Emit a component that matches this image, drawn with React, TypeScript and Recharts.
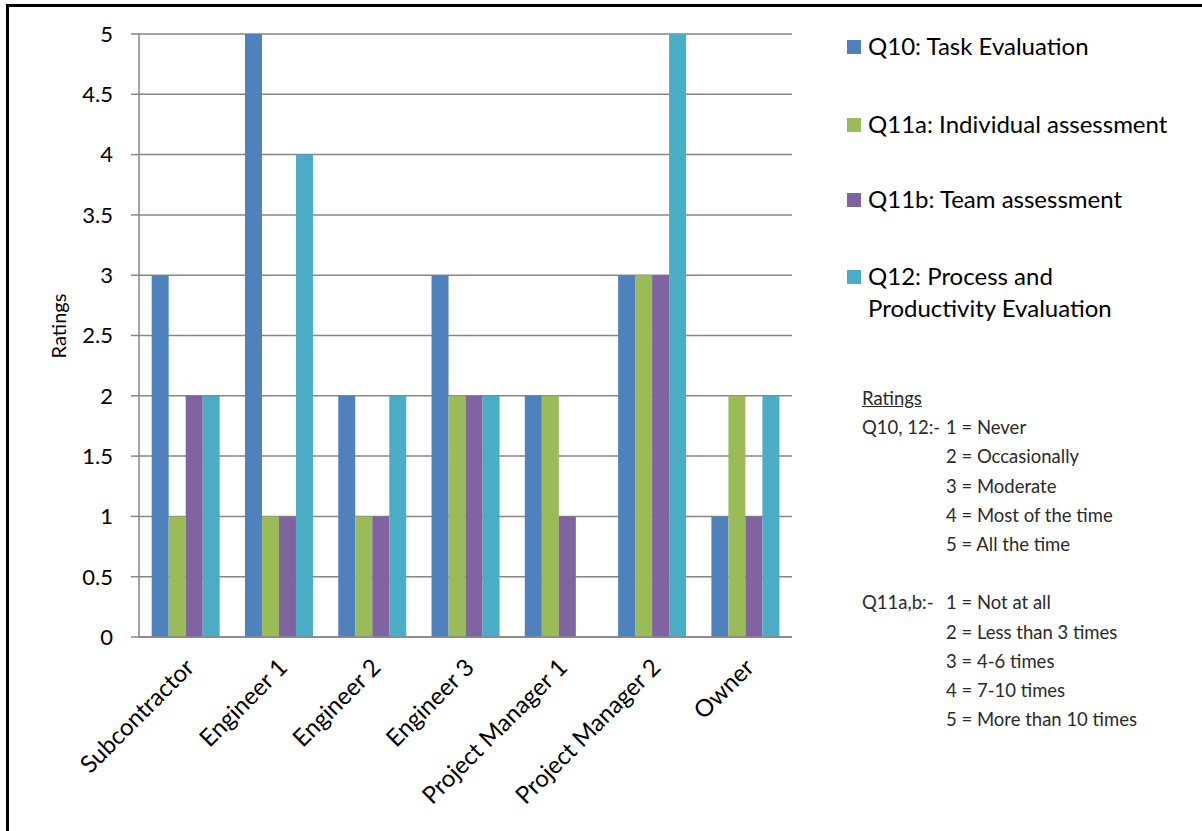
import React from 'react';
import { BarChart, Bar, XAxis, YAxis, CartesianGrid } from 'recharts';

const categories = ['Subcontractor', 'Engineer 1', 'Engineer 2', 'Engineer 3', 'Project Manager 1', 'Project Manager 2', 'Owner'];
const q10 = [3, 5, 2, 3, 2, 3, 1];
const q11a = [1, 1, 1, 2, 2, 3, 2];
const q11b = [2, 1, 1, 2, 1, 3, 1];
const q12 = [2, 4, 2, 2, 0, 5, 2];
const yTicks = [0, 0.5, 1, 1.5, 2, 2.5, 3, 3.5, 4, 4.5, 5];
const edgeTicks = [0, 1, 2, 3, 4, 5, 6, 7];

const series = [
  { key: 'q10', name: 'Q10: Task Evaluation', color: '#4F81BD' },
  { key: 'q11a', name: 'Q11a: Individual assessment', color: '#9BBB59' },
  { key: 'q11b', name: 'Q11b: Team assessment', color: '#8064A2' },
  { key: 'q12', name: 'Q12: Process and|Productivity Evaluation', color: '#4BACC6' },
];

// rating scale notes: [left label, value text]
const notes: [string, string][] = [
  ['Q10, 12:-', '1 = Never'],
  ['', '2 = Occasionally'],
  ['', '3 = Moderate'],
  ['', '4 = Most of the time'],
  ['', '5 = All the time'],
  ['', ''],
  ['Q11a,b:-', '1 = Not at all'],
  ['', '2 = Less than 3 times'],
  ['', '3 = 4-6 times'],
  ['', '4 = 7-10 times'],
  ['', '5 = More than 10 times'],
];

const data = categories.map((name, i) => ({ name, q10: q10[i], q11a: q11a[i], q11b: q11b[i], q12: q12[i] }));

const FONT = 'Lato, "Open Sans", sans-serif';
const AXIS = '#868686';

const CategoryTick = (props: any) => {
  const { x, y, payload } = props;
  const tx = x + 10;
  const ty = y + 32;
  return (
    <text x={tx} y={ty} transform={`rotate(-45 ${tx} ${ty})`} textAnchor="end" fontSize={24} fill="#000" fontFamily={FONT}>
      {payload.value}
    </text>
  );
};

const RatingsLabel = (props: any) => {
  const vb = props.viewBox || { x: 0 };
  const lx = vb.x + 58;
  const ly = 326;
  return (
    <text x={lx} y={ly} transform={`rotate(-90 ${lx} ${ly})`} textAnchor="middle" dominantBaseline="central" fontSize={20} fill="#000" fontFamily={FONT}>
      Ratings
    </text>
  );
};

export default function App() {
  return (
    <div style={{ position: 'absolute', left: 0, top: 0, width: 1202, height: 831, overflow: 'hidden', background: '#fff', fontFamily: FONT }}>
      <div style={{ position: 'absolute', left: 6, top: 4, width: 1400, height: 1000, borderTop: '3px solid #000', borderLeft: '3px solid #000' }} />
      <div style={{ position: 'absolute', left: 0, top: 0 }}>
        <BarChart
          width={1202}
          height={831}
          data={data}
          margin={{ top: 34, right: 410, bottom: 0, left: 0 }}
          barCategoryGap="13.6%"
          barGap={0}
        >
          <CartesianGrid vertical={false} stroke={AXIS} strokeWidth={1.5} />
          <XAxis xAxisId="edges" type="number" domain={[0, 7]} ticks={edgeTicks} allowDataOverflow tick={false} tickSize={8} axisLine={false} tickLine={{ stroke: AXIS, strokeWidth: 1.5 }} height={0} />
          <XAxis dataKey="name" interval={0} tick={<CategoryTick />} tickLine={false} tickSize={0} tickMargin={0} axisLine={{ stroke: AXIS, strokeWidth: 1.5 }} height={194} />
          <YAxis
            domain={[0, 5]}
            ticks={yTicks}
            width={139}
            tickSize={8}
            tickMargin={18}
            axisLine={{ stroke: AXIS, strokeWidth: 1.5 }}
            tickLine={{ stroke: AXIS, strokeWidth: 1.5 }}
            tick={{ fontSize: 22, fill: '#000', fontFamily: FONT }}
            label={{ content: RatingsLabel }}
          />
          {series.map((s) => (
            <Bar key={s.key} dataKey={s.key} name={s.name} fill={s.color} isAnimationActive={false} />
          ))}
        </BarChart>
      </div>
      {series.map((s, i) => {
        const lines = s.name.split('|');
        const tops = [30, 108, 183, 260];
        return (
          <div key={s.key} style={{ position: 'absolute', left: 847, top: tops[i], fontSize: 24, lineHeight: '32px', color: '#000' }}>
            <div style={{ position: 'absolute', left: 0, top: 10, width: 14, height: 14, background: s.color }} />
            {lines.map((l, j) => (
              <div key={j} style={{ marginLeft: 21, whiteSpace: 'nowrap' }}>{l}</div>
            ))}
          </div>
        );
      })}
      <div style={{ position: 'absolute', left: 862, top: 384, fontSize: 18.5, lineHeight: '29.2px', color: '#2a2a2a', whiteSpace: 'nowrap' }}>
        <div style={{ textDecoration: 'underline' }}>Ratings</div>
        {notes.map(([a, b], i) => (
          <div key={i} style={{ position: 'relative', height: '29.2px' }}>
            <span style={{ position: 'absolute', left: 0 }}>{a}</span>
            <span style={{ position: 'absolute', left: 84 }}>{b}</span>
          </div>
        ))}
      </div>
    </div>
  );
}
